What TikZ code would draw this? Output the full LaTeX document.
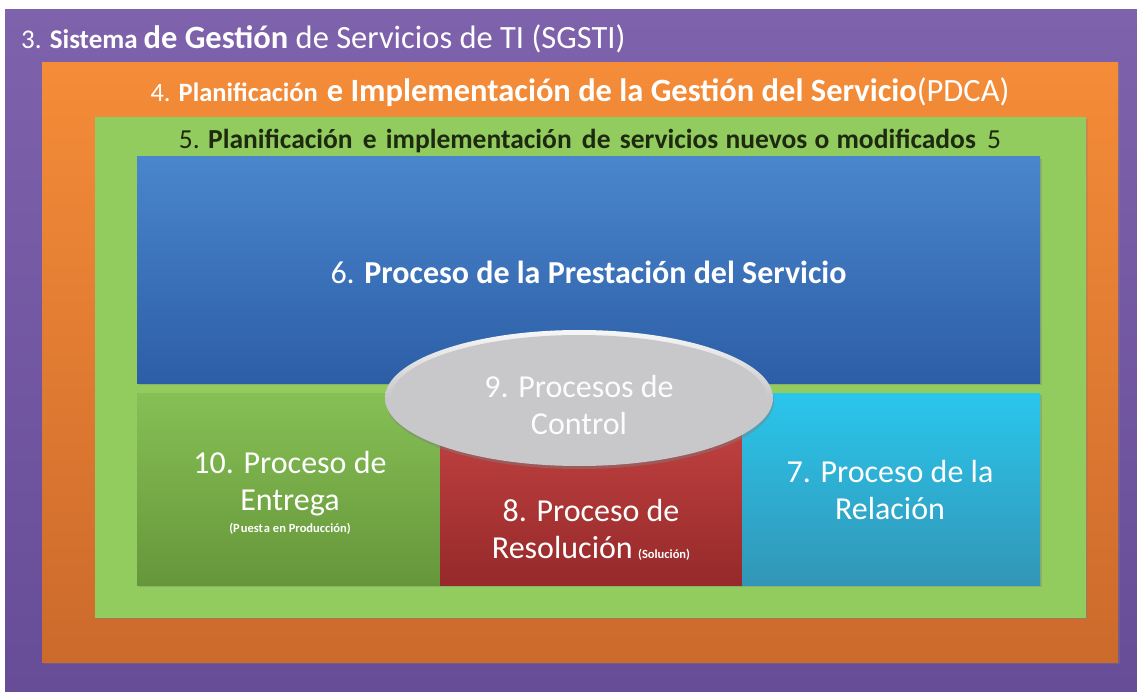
\documentclass[tikz,border=0pt]{standalone}
\usepackage{fontspec}
\setmainfont{Carlito}
\usetikzlibrary{shapes.geometric,shadows}
\definecolor{purT}{HTML}{7E62AC}
\definecolor{purB}{HTML}{674C98}
\definecolor{oraT}{HTML}{F48C38}
\definecolor{oraB}{HTML}{CC6A2C}
\definecolor{grnF}{HTML}{92CB5E}
\definecolor{bluT}{HTML}{4A86CC}
\definecolor{bluB}{HTML}{2C5EA6}
\definecolor{gboxT}{HTML}{86C055}
\definecolor{gboxB}{HTML}{66963A}
\definecolor{redT}{HTML}{C84644}
\definecolor{redB}{HTML}{96292A}
\definecolor{cyaT}{HTML}{2AC6EC}
\definecolor{cyaB}{HTML}{3296B6}
\definecolor{ellF}{HTML}{C8C8CA}
\definecolor{txtG}{HTML}{1E2A10}
\begin{document}
\begin{tikzpicture}[x=1pt,y=-1pt,
  frame/.style={draw=none, anchor=north west, inner sep=0pt, outer sep=0pt},
  procbox/.style={frame, drop shadow={shadow xshift=2pt, shadow yshift=-2pt, opacity=.35}},
  big/.style={font=\fontsize{32}{37}\selectfont},
  lbl/.style={text=white, align=center, big}]
\useasboundingbox (0,0) rectangle (1137,692);
\fill[white] (0,0) rectangle (1137,692);
% frames
\node[frame, minimum width=1132, minimum height=682, top color=purT, bottom color=purB] (sgsti) at (5,10) {};
\node[frame, minimum width=1076, minimum height=599, top color=oraT, bottom color=oraB,
  drop shadow={shadow xshift=2pt, shadow yshift=-2pt, opacity=.3}] (pdca) at (42,63) {};
\node[frame, minimum width=991, minimum height=501, fill=grnF,
  drop shadow={shadow xshift=2pt, shadow yshift=-2pt, opacity=.3}] (nuevos) at (95,117) {};
% titles
\node[anchor=west, text=white, inner sep=0pt] (t3) at (21,39)
  {{\fontsize{27}{31}\selectfont 3. \textbf{Sistema}\hspace{6pt}}{\fontsize{32.5}{37}\selectfont\textbf{de Gestión} de Servicios de TI (SGSTI)}};
\node[anchor=center, text=white, inner sep=0pt] (t4) at (580,92)
  {{\fontsize{26.5}{30}\selectfont 4. \textbf{Planificación}}\hspace{9pt}{\fontsize{32.5}{37}\selectfont\textbf{e Implementación de la Gestión del Servicio}(PDCA)}};
\node[anchor=center, text=txtG, inner sep=0pt] (t5) at (590,141)
  {\fontsize{27.5}{31}\selectfont 5. \textbf{Planificación\hspace{4pt} e\hspace{3pt} implementación\hspace{4pt} de\hspace{3pt} servicios\hspace{1pt} nuevos\hspace{1pt} o\hspace{1pt} modificados}\hspace{5pt} 5};
% process boxes
\node[procbox, minimum width=903, minimum height=226, top color=bluT, bottom color=bluB] (p6) at (137,157) {};
\node[lbl] at (p6.center) [yshift=-2pt] {6. \textbf{Proceso de la Prestación del Servicio}};
\node[procbox, minimum width=303, minimum height=192, top color=gboxT, bottom color=gboxB] (p10) at (137,393) {};
\node[procbox, minimum width=302, minimum height=192, top color=redT, bottom color=redB] (p8) at (440,393) {};
\node[procbox, minimum width=298, minimum height=192, top color=cyaT, bottom color=cyaB] (p7) at (742,393) {};
\node[ellipse, minimum width=388, minimum height=136, inner sep=0pt,
  top color=white!85!ellF, bottom color=ellF, middle color=ellF,
  drop shadow={shadow xshift=1pt, shadow yshift=-3pt, opacity=.45}] (p9) at (579,398) {};
\node[ellipse, minimum width=376, minimum height=126, fill=ellF, inner sep=0pt] (p9in) at (p9.center) {};
\node[lbl, text=white!95!ellF] at (579,405) {9. Procesos de\\Control};
\node[lbl] (l10) at (290,484) {10. Proceso de\\Entrega};
\node[text=white, font=\fontsize{12.5}{14}\selectfont\bfseries] at (290,529) {(P\kern1pt uest\kern1pt a en Producción)};
\node[lbl] at (591,530) {8. Proceso de\\Resolución\,{\fontsize{12.5}{14}\selectfont\bfseries(Solución)}};
\node[lbl] at (890,490) {7. Proceso de la\\Relación};
\end{tikzpicture}
\end{document}
